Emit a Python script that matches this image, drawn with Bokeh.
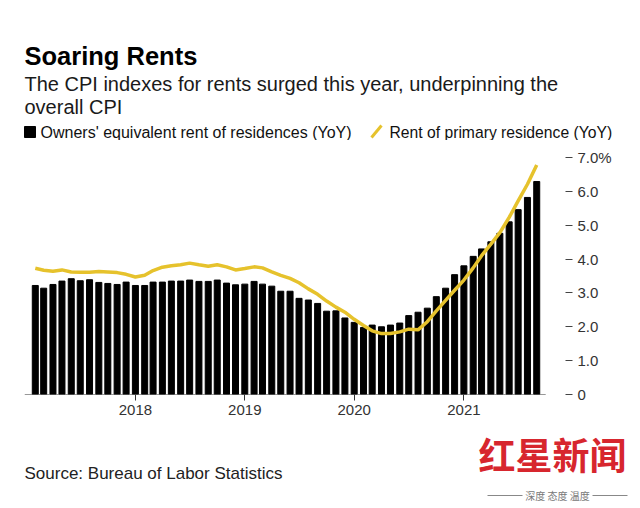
import pandas as pd
from bokeh.plotting import figure
from bokeh.layouts import column
from bokeh.models import Range1d, FixedTicker, DatetimeTickFormatter, NumeralTickFormatter, ColumnDataSource
from bokeh.core.properties import value
from bokeh.embed import file_html
from bokeh.resources import INLINE

# ---- data (monthly, YoY %) ----
months = pd.date_range("2017-02-01", periods=56, freq="MS")
oer = [3.22, 3.14, 3.25, 3.35, 3.42, 3.36, 3.39, 3.31, 3.28, 3.25, 3.32, 3.22,
       3.22, 3.32, 3.32, 3.35, 3.35, 3.38, 3.34, 3.34, 3.38, 3.29, 3.24, 3.26,
       3.34, 3.26, 3.20, 3.05, 3.05, 2.84, 2.79, 2.69, 2.46, 2.47, 2.26, 2.13,
       1.98, 2.05, 2.00, 2.05, 2.11, 2.33, 2.43, 2.55, 2.89, 3.14, 3.54, 3.80,
       4.08, 4.30, 4.51, 4.76, 5.10, 5.46, 5.82, 6.29]
rent = [3.73, 3.67, 3.64, 3.68, 3.62, 3.61, 3.61, 3.63, 3.62, 3.60, 3.55, 3.47,
        3.52, 3.66, 3.76, 3.80, 3.83, 3.88, 3.83, 3.79, 3.83, 3.77, 3.68, 3.72,
        3.77, 3.74, 3.62, 3.52, 3.43, 3.30, 3.12, 2.96, 2.76, 2.58, 2.43, 2.22,
        2.04, 1.88, 1.80, 1.80, 1.85, 1.93, 1.91, 2.15, 2.47, 2.78, 3.08, 3.38,
        3.74, 4.10, 4.44, 4.78, 5.23, 5.72, 6.21, 6.78]
y_ticks = [0, 1, 2, 3, 4, 5, 6, 7]
y_tick_labels = {0: "0", 7: "7.0%"}

title_text = "Soaring Rents"
subtitle_1 = "The CPI indexes for rents surged this year, underpinning the"
subtitle_2 = "overall CPI"
legend_1 = "Owners' equivalent rent of residences (YoY)"
legend_2 = "Rent of primary residence (YoY)"
source_text = "Source: Bureau of Labor Statistics"
logo_text = "红星新闻"
slogan_text = "深度 态度 温度"

BLACK = "#000000"
YELLOW = "#e6c22c"
FONT = "Liberation Sans"
DAY_MS = 86400000
W = 640


def blank(height, y_top):
    f = figure(width=W, height=height, x_range=Range1d(0, W),
               y_range=Range1d(y_top + height, y_top), output_backend="svg",
               toolbar_location=None, min_border=0)
    f.axis.visible = False
    f.grid.visible = False
    f.outline_line_color = None
    f.background_fill_color = "white"
    f.border_fill_color = "white"
    return f


def txt(f, x, y, text, size, color="#111111", style="normal", baseline="alphabetic",
        align="left", font=FONT):
    f.text(x=[x], y=[y], text=[text], text_font=value(font), text_font_size=size,
           text_color=color, text_font_style=style, text_baseline=baseline,
           text_align=align)


# ---- header: title, subtitle, legend ----
head = blank(140, 0)
txt(head, 24, 55, title_text, "25.5px", "#000000", "bold")
txt(head, 24, 83, subtitle_1, "20px", "#1a1a1a")
txt(head, 24, 106, subtitle_2, "20px", "#1a1a1a")
head.quad(left=[24], right=[35], top=[126], bottom=[137], color=BLACK)
txt(head, 40, 131.5, legend_1, "16px", baseline="middle")
head.segment(x0=[371], y0=[137], x1=[381], y1=[125], line_color=YELLOW, line_width=3)
txt(head, 389, 131.5, legend_2, "15.7px", baseline="middle")

# ---- main chart ----
src = ColumnDataSource(dict(x=months, oer=oer, rent=rent))
x_start = months[0] - pd.Timedelta(days=36)
x_end = months[-1] + pd.Timedelta(days=96)
base_end = months[-1] + pd.Timedelta(days=30)
year_ticks = [(m - pd.Timestamp("1970-01-01")) / pd.Timedelta(milliseconds=1)
              for m in months if m.month == 1]

p = figure(width=W, height=286, x_axis_type="datetime",
           x_range=Range1d(x_start, x_end), y_range=Range1d(0, 7.0),
           y_axis_location="right", output_backend="svg", toolbar_location=None,
           min_border_left=24, min_border_right=75, min_border_top=17,
           min_border_bottom=32)
p.outline_line_color = None
p.background_fill_color = "white"
p.border_fill_color = "white"
p.xgrid.visible = False
p.ygrid.visible = False

p.vbar(x="x", top="oer", width=20 * DAY_MS, source=src, color=BLACK)
p.line(x="x", y="rent", source=src, line_color=YELLOW, line_width=3.5)
p.segment(x0=[x_start], y0=[0], x1=[base_end], y1=[0], line_color="#333333", line_width=1.2)

xa = p.xaxis[0]
xa.ticker = FixedTicker(ticks=year_ticks)
xa.formatter = DatetimeTickFormatter(years="%Y", months="%Y", days="%Y")
xa.axis_line_color = None
xa.major_tick_in = 0
xa.major_tick_out = 6
xa.major_tick_line_color = "#333333"
xa.minor_tick_line_color = None
xa.major_label_standoff = 4
xa.major_label_text_font = FONT
xa.major_label_text_font_size = "15px"
xa.major_label_text_color = "#333333"

ya = p.yaxis[0]
ya.ticker = FixedTicker(ticks=y_ticks)
ya.formatter = NumeralTickFormatter(format="0.0")
ya.major_label_overrides = y_tick_labels
ya.axis_line_color = None
ya.major_tick_in = 0
ya.major_tick_out = 7
ya.major_tick_line_color = "#444444"
ya.minor_tick_line_color = None
ya.major_label_standoff = 5
ya.major_label_text_font = FONT
ya.major_label_text_font_size = "15px"
ya.major_label_text_color = "#333333"

# ---- footer: source + watermark ----
foot = blank(82, 426)
txt(foot, 24, 473, source_text, "17px", "#222222", baseline="middle")
txt(foot, 552, 453, logo_text, "37px", "#d7262e", "bold", baseline="middle",
    align="center", font="Noto Sans CJK SC")
txt(foot, 557, 495, slogan_text, "10px", "#777777", baseline="middle",
    align="center", font="Noto Sans CJK SC")
foot.segment(x0=[487, 592], y0=[495, 495], x1=[522, 627], y1=[495, 495],
             line_color="#888888", line_width=1)

# wrap each figure in its own column so that frames are not aligned to each other
layout = column(column(head), column(p), column(foot), spacing=0)
open("out.html", "w").write(file_html(layout, INLINE))
